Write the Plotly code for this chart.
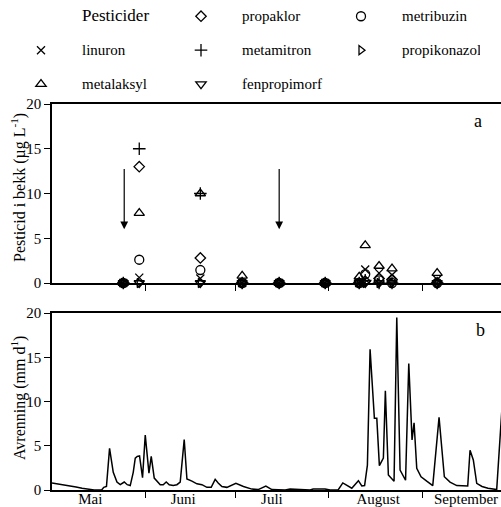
import plotly.graph_objects as go

# ---------------- data ----------------
# days counted from 1 May
sample_days = [23.7, 29.0, 49.3, 63.2, 75.5, 90.8, 102.1, 104.1, 108.7, 113.0, 128.0]
propaklor    = [0, 13.0, 2.8, 0, 0, 0, 0, 0.2, 0.5, 0.4, 0]
metribuzin   = [0, 2.6, 1.45, 0, 0, 0, 0, 1.0, 0.3, 0, 0]
linuron      = [0, 0.6, 0.5, 0, 0, 0, 0, 1.5, 1.1, 0.9, 0.4]
metamitron   = [0, 15.0, 10.0, 0, 0, 0, 0, 0.3, 0, 0, 0]
propikonazol = [0, 0, 0, 0, 0, 0, 0, 0, 0, 0, 0]
metalaksyl   = [0, 7.8, 10.0, 0.8, 0, 0, 0.7, 4.2, 1.9, 1.6, 1.1]
fenpropimorf = [0, 0, 0, 0, 0, 0, 0, 0, 0, 0, 0]

runoff_days = [0, 2, 4, 6, 8, 10, 12, 14, 16.5, 17.2, 18.1, 19.13, 20.36, 21.59, 22.68,
               24.01, 25.01, 26.0, 27.0, 27.67, 28.33, 29.09, 30.09, 30.99, 32.22, 32.98,
               33.98, 34.97, 35.97, 36.96, 37.96, 38.96, 40.29, 41.51, 42.61, 43.94, 44.84,
               46.5, 48.16, 49.82, 51.48, 52.91, 54.23, 55.23, 56.46, 58.12, 59.55, 61.11,
               63.63, 66.42, 68.52, 71.07, 73.07, 77.48, 79.14, 82.46, 85.79, 86.78, 90.77,
               92.43, 95.08, 96.65, 98.07, 99.63, 101.83, 102.96, 103.89, 104.82, 105.71,
               107.14, 107.94, 108.8, 110.13, 110.79, 111.79, 113.68, 114.58, 115.68, 117.5,
               118.57, 119.66, 120.33, 121.22, 122.65, 124.54, 126.54, 128.63, 130.39,
               132.28, 134.51, 138.16, 138.93, 140.02, 141.15, 142.91, 144.9, 147.79, 149.55]
runoff_vals = [0.8, 0.7, 0.6, 0.45, 0.35, 0.2, 0.1, 0.0, 0.0, 0.3, 0.4, 4.7, 2.0, 0.9, 0.6,
               0.9, 0.6, 0.5, 2.0, 3.6, 3.8, 3.85, 1.4, 6.2, 1.9, 3.8,
               1.35, 1.0, 0.6, 0.6, 0.9, 0.6, 0.5, 0.6, 0.9, 5.7, 1.25,
               1.0, 0.7, 0.6, 0.3, 0.3, 1.2, 0.8, 0.4, 0.3, 0.5, 0.75,
               0.4, 0.1, 0.05, 0.45, 0.05, 0.0, 0.1, 0.05, 0.0, 0.1, 0.1,
               0.0, 0.0, 0.8, 0.5, 0.2, 1.05, 0.45, 0.5, 2.8, 15.9,
               8.1, 8.1, 2.75, 3.6, 11.2, 1.7, 1.0, 19.5, 2.26, 1.1,
               14.3, 5.65, 7.6, 2.45, 1.5, 1.0, 0.5, 8.2, 1.5,
               0.9, 0.5, 0.45, 4.5, 3.4, 0.75, 0.4, 0.2, 0.05, 9.3]

month_boundaries = [31, 61, 92, 123]
month_label_days = [12.7, 43.6, 73.1, 108.4, 137.6]
month_names = ["Mai", "Juni", "Juli", "August", "September"]
y_ticks = [0, 5, 10, 15, 20]
arrow_days = [24.0, 75.5]

SERIF = "Liberation Serif"

series = [
    ("propaklor", propaklor, "diamond-open", 8),
    ("metribuzin", metribuzin, "circle-open", 9),
    ("linuron", linuron, "x-thin-open", 8),
    ("metamitron", metamitron, "cross-thin-open", 9),
    ("propikonazol", propikonazol, "triangle-right-open", 8),
    ("metalaksyl", metalaksyl, "triangle-up-open", 9),
    ("fenpropimorf", fenpropimorf, "triangle-down-open", 9),
]

fig = go.Figure()

# legend heading entry
fig.add_trace(go.Scatter(
    x=[None], y=[None], mode="markers", xaxis="x2", yaxis="y2",
    name="<span style='font-size:17px'>Pesticider</span><br>\u00a0",
    marker=dict(size=1, color="rgba(0,0,0,0)"), hoverinfo="skip"))

for name, vals, sym, size in series:
    fig.add_trace(go.Scatter(
        x=sample_days, y=vals, mode="markers", xaxis="x2", yaxis="y2",
        name="<span style='font-size:15px'>" + name + "</span><br>\u00a0",
        cliponaxis=False,
        marker=dict(symbol=sym, size=size, color="black",
                    line=dict(color="black", width=1.3))))

fig.add_trace(go.Scatter(
    x=runoff_days, y=runoff_vals, mode="lines", xaxis="x", yaxis="y",
    line=dict(color="black", width=1.5), showlegend=False))

X_RANGE = [0, 149.22]
axis_common = dict(showgrid=False, zeroline=False, showline=True, linecolor="black",
                   linewidth=1.5, automargin=False)

fig.update_layout(
    width=501, height=507,
    margin=dict(l=52, r=0, t=104, b=17, autoexpand=False),
    paper_bgcolor="white", plot_bgcolor="white",
    font=dict(family=SERIF, color="black", size=15),
    xaxis=dict(domain=[0, 1], anchor="y", range=X_RANGE, mirror=True,
               tickmode="array", tickvals=month_label_days, ticktext=month_names,
               ticks="", ticklabelstandoff=-6, tickfont=dict(size=15, family=SERIF),
               minor=dict(tickmode="array", tickvals=month_boundaries, ticks="outside",
                          ticklen=6, tickwidth=1.3, tickcolor="black", showgrid=False),
               **axis_common),
    yaxis=dict(domain=[0, 177 / 386], anchor="x", range=[0, 20],
               tickmode="array", tickvals=y_ticks, ticks="outside", ticklen=6,
               tickwidth=1.3, tickcolor="black", tickfont=dict(size=15, family=SERIF),
               **axis_common),
    xaxis2=dict(domain=[0, 1], anchor="y2", range=X_RANGE, mirror=True,
                tickmode="array", tickvals=[], showticklabels=False, ticks="",
                minor=dict(tickmode="array", tickvals=month_boundaries, ticks="outside",
                           ticklen=6, tickwidth=1.3, tickcolor="black", showgrid=False),
                **axis_common),
    yaxis2=dict(domain=[207 / 386, 1], anchor="x2", range=[0, 20],
                tickmode="array", tickvals=y_ticks, ticks="outside", ticklen=6,
                tickwidth=1.3, tickcolor="black", tickfont=dict(size=15, family=SERIF),
                **axis_common),
    legend=dict(orientation="h", x=-52 / 449, xanchor="left",
                y=1 + 102 / 386, yanchor="top",
                itemwidth=72, entrywidth=73, valign="top",
                font=dict(size=11.9, family=SERIF, color="black"),
                bgcolor="rgba(0,0,0,0)", traceorder="normal", borderwidth=0),
    showlegend=True,
)

annotations = [
    dict(text="Pesticid i bekk (µg L<sup>-1</sup>)", xref="paper", yref="paper",
         x=(18 - 52) / 449, y=(490 - 188) / 386, textangle=-90, showarrow=False,
         xanchor="center", yanchor="middle", font=dict(size=16, family=SERIF)),
    dict(text="Avrenning (mm d<sup>1</sup>)", xref="paper", yref="paper",
         x=(18 - 52) / 449, y=(490 - 398) / 386, textangle=-90, showarrow=False,
         xanchor="center", yanchor="middle", font=dict(size=16, family=SERIF)),
    dict(text="a", xref="paper", yref="paper", x=(478 - 52) / 449, y=(490 - 121) / 386,
         xanchor="center", yanchor="middle",
         showarrow=False, font=dict(size=18, family=SERIF)),
    dict(text="b", xref="paper", yref="paper", x=(480 - 52) / 449, y=(490 - 330) / 386,
         xanchor="center", yanchor="middle",
         showarrow=False, font=dict(size=18, family=SERIF)),
]
for d in arrow_days:
    annotations.append(dict(x=d, y=6.0, ax=d, ay=12.9, xref="x2", yref="y2",
                            axref="x2", ayref="y2", text="", showarrow=True,
                            arrowhead=2, arrowsize=1.3, arrowwidth=1.2,
                            arrowcolor="black"))
fig.update_layout(annotations=annotations)

fig.write_html("out.html",
               config={"displayModeBar": False},
               post_script="document.body.style.margin='0';"
                           "document.body.style.overflow='hidden';")
